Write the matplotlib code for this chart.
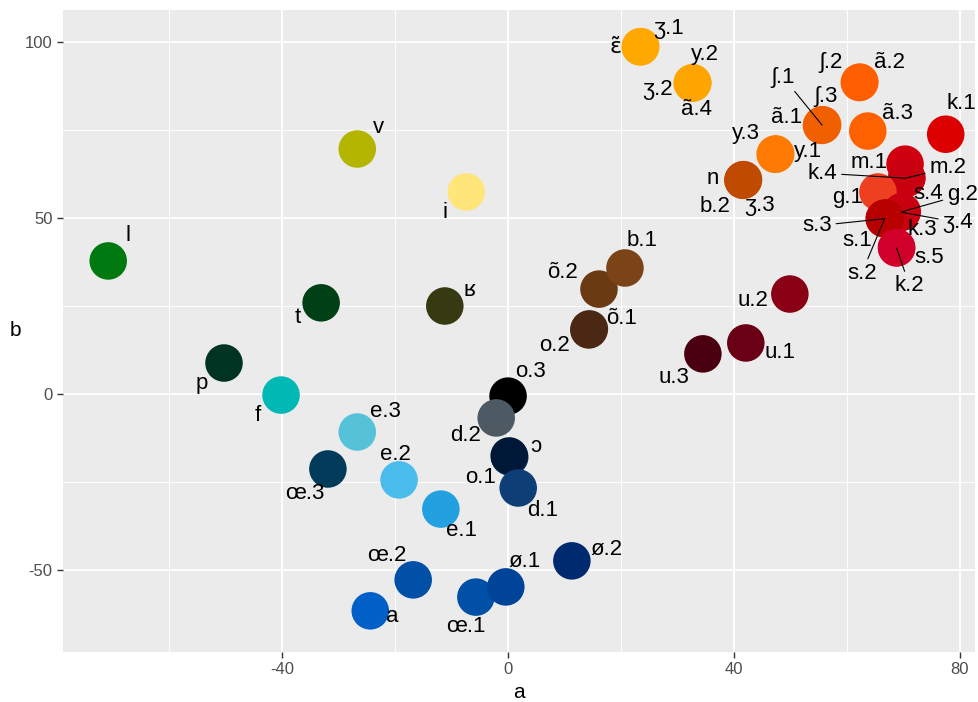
import matplotlib
matplotlib.use("Agg")
import matplotlib.pyplot as plt
from matplotlib.ticker import MultipleLocator

plt.rcParams['font.family'] = ['Liberation Sans', 'DejaVu Sans']
plt.rcParams['axes.unicode_minus'] = False

# data: vowel / consonant positions in the a-b plane
names = ["l", "v", "i", "t", "ʁ", "p", "f", "e.3", "œ.3", "e.2", "e.1", "œ.2", "a",
         "œ.1", "ø.1", "ø.2", "o.3", "d.2", "o.1", "ɔ", "d.1", "õ.1", "o.2", "õ.2", "b.1",
         "ʒ.1", "ɛ̃", "ʒ.2", "ã.4", "y.2", "y.3", "y.1", "n", "b.2", "ʒ.3",
         "ã.1", "ʃ.1", "ʃ.3", "ʃ.2", "ã.2", "ã.3", "k.1", "m.1", "k.4", "m.2", "g.1",
         "g.2", "ʒ.4", "s.4", "s.3", "s.2", "s.1", "k.3", "k.2", "s.5",
         "u.2", "u.1", "u.3"]
a_vals = [-70.8, -26.7, -7.4, -33.1, -11.2, -50.3, -40.2, -26.7, -31.9, -19.3, -11.9, -16.8, -24.4,
          -5.7, -0.4, 11.3, 0.0, -2.1, 0.3, 0.2, 1.8, 14.4, 14.3, 16.1, 20.7,
          23.5, 23.4, 32.6, 32.7, 32.7, 47.3, 47.4, 41.6, 41.6, 41.7,
          55.5, 55.6, 55.7, 62.2, 62.3, 63.7, 77.5, 70.3, 70.6, 70.6, 65.5,
          69.8, 69.7, 69.7, 66.6, 66.7, 66.7, 66.8, 68.8, 68.8,
          49.9, 42.1, 34.5]
b_vals = [37.8, 69.6, 57.4, 25.9, 25.0, 8.8, -0.3, -10.8, -21.3, -24.4, -32.7, -52.8, -61.6,
          -57.7, -54.8, -47.4, -0.6, -6.8, -17.9, -17.6, -26.7, 18.5, 18.2, 29.8, 35.8,
          98.7, 98.6, 88.3, 88.4, 88.4, 68.1, 68.2, 60.7, 60.8, 60.9,
          76.3, 76.4, 76.5, 88.5, 88.6, 74.7, 73.8, 65.3, 61.3, 61.4, 57.4,
          51.8, 51.6, 51.7, 49.8, 49.9, 49.9, 50.0, 41.5, 41.6,
          28.4, 14.5, 11.4]
colors = ["#007A10", "#B3B500", "#FFE57A", "#004015", "#363A12", "#003322", "#00B8B4",
          "#55C2D8", "#003B5A", "#4ABCEB", "#22A0E0", "#0050A8", "#0060C8",
          "#0050A8", "#00449A", "#002A70", "#000000", "#4E5A63", "#0D3E75", "#001838",
          "#0D3E75", "#4A2814", "#4A2814", "#6A3A12", "#7A4416",
          "#FFA800", "#FFA800", "#FFA500", "#FFA500", "#FFA500", "#FF7A00", "#FF7A00",
          "#C04A00", "#C04A00", "#C04A00",
          "#F06000", "#F06000", "#F06000", "#FF5F00", "#FF5F00", "#FF6000", "#DD0000",
          "#D00010", "#C80010", "#C80010", "#EE4020",
          "#C80010", "#C80010", "#C80010", "#B80000", "#B80000", "#B80000", "#B80000",
          "#D0002A", "#D0002A",
          "#8A0015", "#6A0015", "#4A0010"]

# label offsets in pixels (dx, dy with y up), and whether a segment is drawn
offsets = {
    "l": (20, 25), "v": (21, 22), "i": (-21, -21), "t": (-23, -15), "ʁ": (25, 16),
    "p": (-22, -20), "f": (-23, -20), "e.3": (28, 21), "œ.3": (-23, -25), "e.2": (-4, 25),
    "e.1": (21, -21), "œ.2": (-26, 24), "a": (22, -6), "œ.1": (-10, -29), "ø.1": (19, 25),
    "ø.2": (35, 11), "o.3": (22, 25), "d.2": (-31, -18), "o.1": (-29, -20), "ɔ": (27, 9),
    "d.1": (24, -23), "õ.1": (32, 10), "o.2": (-34, -16), "õ.2": (-36, 17), "b.1": (17, 27),
    "ʒ.1": (28, 18), "ɛ̃": (-25, 0), "ʒ.2": (-35, -6), "ã.4": (4, -27), "y.2": (12, 28),
    "y.3": (-29, 21), "y.1": (32, 2), "n": (-30, 2), "b.2": (-28, -27), "ʒ.3": (16, -26),
    "ã.1": (-35, 8), "ʃ.1": (-39, 48), "ʃ.3": (3, 28), "ʃ.2": (-28, 20), "ã.2": (30, 20),
    "ã.3": (30, 18), "k.1": (16, 31), "m.1": (-36, 2), "k.4": (-84, 5), "m.2": (41, 10),
    "g.1": (-30, -6), "g.2": (60, 17), "ʒ.4": (56, -10), "s.4": (26, 19), "s.3": (-67, -7),
    "s.2": (-23, -55), "s.1": (-28, -22), "k.3": (37, -11), "k.2": (13, -38), "s.5": (33, -10),
    "u.2": (-37, -6), "u.1": (34, -10), "u.3": (-29, -24),
}
segments = ["ʃ.1", "k.4", "m.2", "g.2", "ʒ.4", "s.3", "s.2", "k.2"]

fig = plt.figure(figsize=(9.79, 7.02), dpi=100)
ax = fig.add_axes([0.0644, 0.0712, 0.9316, 0.9146])
ax.set_facecolor("#EBEBEB")
for s in ax.spines.values():
    s.set_visible(False)

ax.scatter(a_vals, b_vals, s=730, c=colors, linewidths=0, zorder=3)

for n, xv, yv in zip(names, a_vals, b_vals):
    dx, dy = offsets[n]
    fam = ["DejaVu Sans"] if n == "ɛ̃" else ["Liberation Sans", "DejaVu Sans"]
    if n in segments:
        ax.annotate(n, (xv, yv), xytext=(dx, dy), textcoords="offset pixels",
                    ha="center", va="center", fontsize=16, family=fam, zorder=4,
                    arrowprops=dict(arrowstyle="-", color="black", lw=0.8,
                                    shrinkA=1, shrinkB=0))
    else:
        ax.annotate(n, (xv, yv), xytext=(dx, dy), textcoords="offset pixels",
                    ha="center", va="center", fontsize=16, family=fam, zorder=4)

ax.set_xlim(-78.8, 82.7)
ax.set_ylim(-73.3, 109.1)
ax.xaxis.set_major_locator(MultipleLocator(40))
ax.xaxis.set_minor_locator(MultipleLocator(20))
ax.yaxis.set_major_locator(MultipleLocator(50))
ax.yaxis.set_minor_locator(MultipleLocator(25))
ax.grid(which="major", color="white", lw=1.3, zorder=0)
ax.grid(which="minor", color="white", lw=0.65, zorder=0)
ax.set_axisbelow(True)
ax.tick_params(which="major", length=4, width=1, color="#333333", labelcolor="#4D4D4D",
               labelsize=12)
ax.tick_params(which="minor", length=0)
ax.set_xlabel("a", fontsize=15, labelpad=4)
ax.set_ylabel("b", fontsize=15, rotation=0, va="center")
ax.yaxis.set_label_coords(-0.052, 0.5)

fig.savefig("out.png", dpi=100)
